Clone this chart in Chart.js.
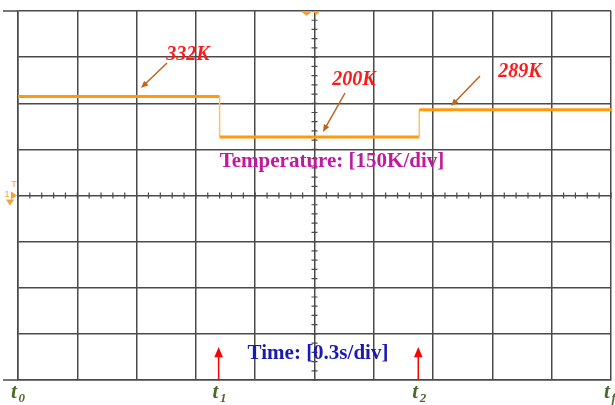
<!DOCTYPE html>
<html>
<head>
<meta charset="utf-8">
<script src="https://cdn.jsdelivr.net/npm/chart.js@4/dist/chart.umd.min.js"></script>
<style>
  html, body { margin: 0; padding: 0; background: #fff; }
  #wrap { width: 615px; height: 405px; position: relative; }
</style>
</head>
<body>
<div id="wrap"><canvas id="scope"></canvas></div>
<script>
// Time breakpoints (s) and temperature levels (K)
const stepTimes = [0, 1.02, 2.03, 3.0];
const tempLevels = [332, 200, 289];

// Scope scale: 0.3 s/div x 10 div, 150 K/div x 8 div
const timeMin = 0, timeMax = 3.0, timeDiv = 0.3;
const tempMin = -590, tempMax = 610, tempDiv = 150;

// Labels on the trace
const levelLabels = ["332K", "200K", "289K"];
const markerNames = ["0", "1", "2", "f"];
const markerTimes = [0, 1.02, 2.03, 3.0];

// build a square wave: each level held from one breakpoint to the next
const points = [];
tempLevels.forEach((v, i) => {
    points.push({ x: stepTimes[i], y: v });
    points.push({ x: stepTimes[i + 1], y: v });
});

function arrow(ctx, x1, y1, x2, y2, color, head) {
    const a = Math.atan2(y2 - y1, x2 - x1);
    ctx.strokeStyle = color;
    ctx.fillStyle = color;
    ctx.lineWidth = 1.5;
    ctx.beginPath();
    ctx.moveTo(x1, y1);
    ctx.lineTo(x2 - Math.cos(a) * head * 0.8, y2 - Math.sin(a) * head * 0.8);
    ctx.stroke();
    ctx.beginPath();
    ctx.moveTo(x2, y2);
    ctx.lineTo(x2 - head * Math.cos(a - 0.4), y2 - head * Math.sin(a - 0.4));
    ctx.lineTo(x2 - head * Math.cos(a + 0.4), y2 - head * Math.sin(a + 0.4));
    ctx.closePath();
    ctx.fill();
}

// draws centre-line minor ticks, frame extensions and text annotations
const scopeDecor = {
    id: "scopeDecor",
    beforeDatasetsDraw(chart) {
        const { ctx, chartArea: ca, scales: { x, y } } = chart;
        const cx = x.getPixelForValue((timeMin + timeMax) / 2);
        const cy = y.getPixelForValue((tempMin + tempMax) / 2);
        ctx.save();
        ctx.strokeStyle = "#4a4a4a";
        ctx.lineWidth = 1.5;
        ctx.beginPath();
        ctx.moveTo(3, ca.top); ctx.lineTo(ca.left, ca.top);
        ctx.moveTo(3, ca.bottom); ctx.lineTo(ca.left, ca.bottom);
        ctx.stroke();
        ctx.lineWidth = 1.2;
        ctx.beginPath();
        for (let t = timeMin; t <= timeMax + 1e-9; t += timeDiv / 5) {
            const px = x.getPixelForValue(t);
            ctx.moveTo(px, cy - 3); ctx.lineTo(px, cy + 3);
        }
        for (let v = tempMin; v <= tempMax + 1e-9; v += tempDiv / 5) {
            const py = y.getPixelForValue(v);
            ctx.moveTo(cx - 3, py); ctx.lineTo(cx + 3, py);
        }
        ctx.stroke();

        // channel / trigger markers
        ctx.fillStyle = "#f7a030";
        ctx.beginPath();
        ctx.moveTo(cx - 14, ca.top); ctx.lineTo(cx - 2, ca.top);
        ctx.lineTo(cx - 8, ca.top + 5); ctx.closePath();
        ctx.moveTo(cx - 2, ca.top); ctx.lineTo(cx + 6, ca.top);
        ctx.lineTo(cx + 2, ca.top + 4); ctx.closePath();
        ctx.fill();
        ctx.font = "9px 'Liberation Sans'";
        ctx.textAlign = "center";
        ctx.textBaseline = "middle";
        ctx.fillText("T", 14, cy - 11);
        ctx.fillText("1", 7, cy - 1);
        ctx.beginPath();
        ctx.moveTo(11, cy - 4); ctx.lineTo(17, cy); ctx.lineTo(11, cy + 4); ctx.closePath();
        ctx.moveTo(6, cy + 4); ctx.lineTo(14, cy + 4); ctx.lineTo(10, cy + 10); ctx.closePath();
        ctx.fill();
        ctx.restore();
    },
    afterDatasetsDraw(chart) {
        const { ctx, chartArea: ca, scales: { x, y } } = chart;
        ctx.save();
        ctx.textAlign = "center";
        ctx.textBaseline = "middle";

        // level labels with brown arrows
        ctx.font = "bold italic 20px 'Liberation Serif'";
        ctx.fillStyle = "#ff1a1a";
        ctx.fillText(levelLabels[0], 188, 55);
        ctx.fillText(levelLabels[1], 354, 80);
        ctx.fillText(levelLabels[2], 520, 72);
        const brown = "#c0651e";
        arrow(ctx, 167, 63, 141, 88, brown, 8);
        arrow(ctx, 345, 93, 323, 132, brown, 8);
        arrow(ctx, 480, 76, 451, 106, brown, 8);

        // axis captions
        ctx.font = "bold 21px 'Liberation Serif'";
        ctx.fillStyle = "#c0189e";
        ctx.fillText("Temperature: [150K/div]", 332, 162);
        ctx.fillStyle = "#1a1ab0";
        ctx.fillText("Time: [0.3s/div]", 318, 354);

        // event markers
        for (let i = 1; i <= 2; i++) {
            const px = x.getPixelForValue(markerTimes[i]) - 1;
            arrow(ctx, px, ca.bottom, px, ca.bottom - 33, "#ff0000", 11);
        }
        ctx.fillStyle = "#4a6a2a";
        markerTimes.forEach((t, i) => {
            const px = x.getPixelForValue(t);
            ctx.textAlign = "left";
            ctx.font = "bold italic 21px 'Liberation Serif'";
            ctx.fillText("t", px - 7, 393);
            ctx.font = "bold italic 13px 'Liberation Serif'";
            ctx.fillText(markerNames[i], px + 0.5, 399);
        });
        ctx.restore();
    }
};

const isEdge = c => c.p0.parsed.x === c.p1.parsed.x;

new Chart(document.getElementById("scope"), {
    type: "line",
    data: {
        datasets: [{
            label: "Temperature",
            data: points,
            borderColor: "#ff9a10",
            borderWidth: 3,
            pointRadius: 0,
            fill: false,
            segment: {
                borderColor: c => isEdge(c) ? "#ffc060" : undefined,
                borderWidth: c => isEdge(c) ? 1.5 : undefined
            }
        }]
    },
    options: {
        responsive: true,
        maintainAspectRatio: false,
        animation: false,
        layout: { padding: { left: 18, right: 4, top: 11, bottom: 25 } },
        plugins: {
            legend: { display: false },
            tooltip: { enabled: false }
        },
        scales: {
            x: {
                type: "linear",
                min: timeMin,
                max: timeMax,
                ticks: { display: false, stepSize: timeDiv },
                grid: { color: "#4a4a4a", lineWidth: 1.5, drawTicks: false },
                border: { color: "#4a4a4a", width: 1.5 }
            },
            y: {
                min: tempMin,
                max: tempMax,
                ticks: { display: false, stepSize: tempDiv },
                grid: { color: "#4a4a4a", lineWidth: 1.5, drawTicks: false },
                border: { color: "#4a4a4a", width: 1.5 }
            }
        }
    },
    plugins: [scopeDecor]
});
</script>
</body>
</html>
